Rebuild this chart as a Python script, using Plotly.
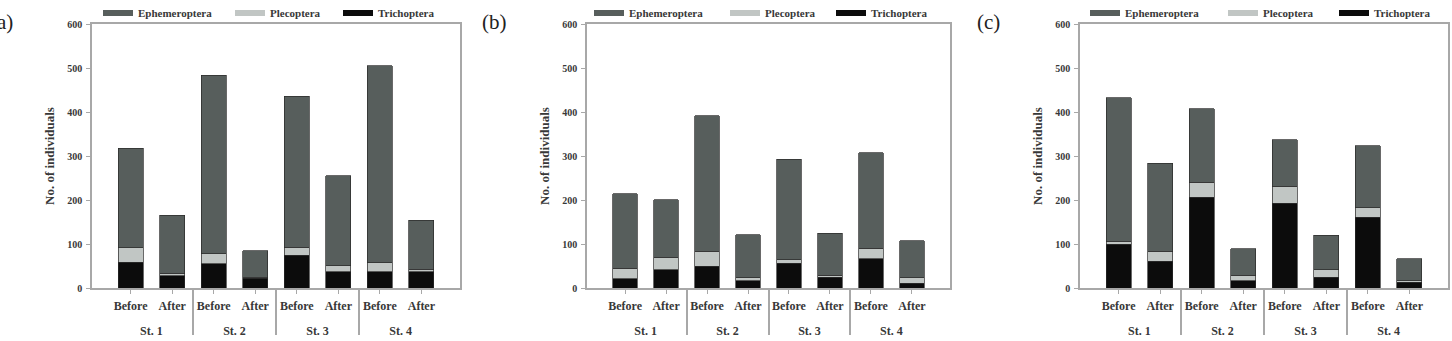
import plotly.graph_objects as go

stations = ["St. 1", "St. 1", "St. 2", "St. 2", "St. 3", "St. 3", "St. 4", "St. 4"]
periods = ["Before", "After", "Before", "After", "Before", "After", "Before", "After"]

# panel (a)
a_tri = [59, 28, 55, 22, 75, 37, 37, 37]
a_ple = [32, 6, 23, 2, 18, 14, 20, 6]
a_eph = [227, 131, 405, 61, 343, 204, 448, 111]
# panel (b)
b_tri = [21, 42, 49, 16, 56, 24, 66, 11]
b_ple = [24, 28, 34, 7, 8, 5, 24, 12]
b_eph = [169, 131, 309, 98, 229, 95, 217, 84]
# panel (c)
c_tri = [100, 61, 206, 17, 193, 25, 161, 13]
c_ple = [6, 22, 34, 12, 38, 17, 21, 3]
c_eph = [326, 201, 167, 60, 106, 78, 141, 51]

panel_labels = ["(a)", "(b)", "(c)"]
panels = [(a_tri, a_ple, a_eph), (b_tri, b_ple, b_eph), (c_tri, c_ple, c_eph)]
taxa = ["Trichoptera", "Plecoptera", "Ephemeroptera"]
colors = {"Trichoptera": "#0c0c0c", "Plecoptera": "#c1c6c4", "Ephemeroptera": "#575e5c"}

# positions of bars and station groups derived from the category lists
pos = list(range(len(periods)))
groups = []
for k, s in enumerate(stations):
    if not groups or groups[-1][0] != s:
        groups.append([s, k, k])
    else:
        groups[-1][2] = k
group_names = [g[0] for g in groups]
group_centers = [(g[1] + g[2]) / 2 for g in groups]
group_bounds = [(groups[j][2] + groups[j + 1][1]) / 2 for j in range(len(groups) - 1)]

W, H = 1452, 341
x_dom = [(92, 460), (587, 950), (1080, 1448)]
legend_px = [
    {"Ephemeroptera": 103, "Plecoptera": 235, "Trichoptera": 343},
    {"Ephemeroptera": 594, "Plecoptera": 730, "Trichoptera": 836},
    {"Ephemeroptera": 1090, "Plecoptera": 1228, "Trichoptera": 1339},
]
label_right = [15, 509, 1002]
y_dom = [(H - 288) / H, (H - 24) / H]
x_range = [-0.93, 7.93]

txt = "#383838"
frame = "#a8a8a8"
serif = "Liberation Serif"

fig = go.Figure()
leg_n = 0
for i, (tri, ple, eph) in enumerate(panels):
    ax = "" if i == 0 else str(i + 1)
    sax = str(i + 4)
    for name, vals in zip(taxa, [tri, ple, eph]):
        fig.add_trace(go.Bar(
            x=pos, y=vals, name=name,
            customdata=[[s, p] for s, p in zip(stations, periods)],
            hovertemplate="%{customdata[0]} %{customdata[1]}<br>" + name + ": %{y}<extra></extra>",
            marker=dict(color=colors[name], line=dict(color="#2a2a2a", width=0.7)),
            width=0.6, xaxis="x" + ax, yaxis="y" + ax, showlegend=False,
        ))
    for name in ["Ephemeroptera", "Plecoptera", "Trichoptera"]:
        leg_n += 1
        leg = "legend" if leg_n == 1 else f"legend{leg_n}"
        # legend key entries (no data drawn); they live on the station axis
        fig.add_trace(go.Scatter(
            x=pos, y=[None] * len(pos), name=name, mode="lines",
            line=dict(color=colors[name], width=6), xaxis="x" + sax, yaxis="y" + ax,
            legend=leg, showlegend=True, hoverinfo="skip",
        ))
        fig.layout[leg] = dict(
            orientation="h", x=(legend_px[i][name] - 5) / W, xanchor="left",
            y=1 - 13 / H, yanchor="middle",
            font=dict(family=serif, size=11, color=txt, weight="bold"),
            bgcolor="rgba(0,0,0,0)", borderwidth=0, itemwidth=30,
        )
    d0, d1 = x_dom[i]
    fig.layout["xaxis" + ax] = dict(
        domain=[d0 / W, d1 / W], anchor="y" + ax, range=x_range,
        tickmode="array", tickvals=pos, ticktext=periods,
        showline=True, mirror=True, linecolor=frame, linewidth=1.5,
        ticks="outside", ticklen=4, tickcolor=frame, tickwidth=1,
        tickfont=dict(family=serif, size=12, color=txt, weight="bold"),
        tickangle=0, ticklabelstandoff=2, automargin=False,
        showgrid=False, zeroline=False,
    )
    # station axis: group labels and dividers between stations
    fig.layout["xaxis" + sax] = dict(
        domain=[d0 / W, d1 / W], overlaying="x" + ax, anchor="free", position=y_dom[0],
        side="bottom", range=x_range, tickmode="array",
        tickvals=group_centers, ticktext=group_names, ticks="",
        minor=dict(tickmode="array", tickvals=group_bounds, ticks="outside",
                   ticklen=46, tickcolor=frame, tickwidth=1.5, showgrid=False),
        tickfont=dict(family=serif, size=12, color=txt, weight="bold"),
        tickangle=0, ticklabelstandoff=34, automargin=False,
        showline=False, showgrid=False, zeroline=False,
    )
    fig.layout["yaxis" + ax] = dict(
        domain=y_dom, anchor="x" + ax, range=[0, 600], dtick=100,
        showline=True, mirror=True, linecolor=frame, linewidth=1.5,
        ticks="outside", ticklen=4, tickcolor=frame, tickwidth=1,
        tickfont=dict(family=serif, size=10, color=txt, weight="bold"),
        ticklabelstandoff=2, automargin=False,
        title=dict(text="No. of individuals", standoff=10,
                   font=dict(family=serif, size=13, color=txt, weight="bold")),
        showgrid=False, zeroline=False,
    )
    fig.add_annotation(
        text=panel_labels[i], xref="paper", yref="paper", x=label_right[i] / W, xanchor="right",
        y=1 - 22 / H, yanchor="middle", showarrow=False,
        font=dict(family=serif, size=21, color="#222222"),
    )

fig.update_layout(
    width=W, height=H, margin=dict(l=0, r=0, t=0, b=0, autoexpand=False),
    barmode="stack", plot_bgcolor="white", paper_bgcolor="white",
    hovermode="closest",
)

fig.write_html("out.html")
